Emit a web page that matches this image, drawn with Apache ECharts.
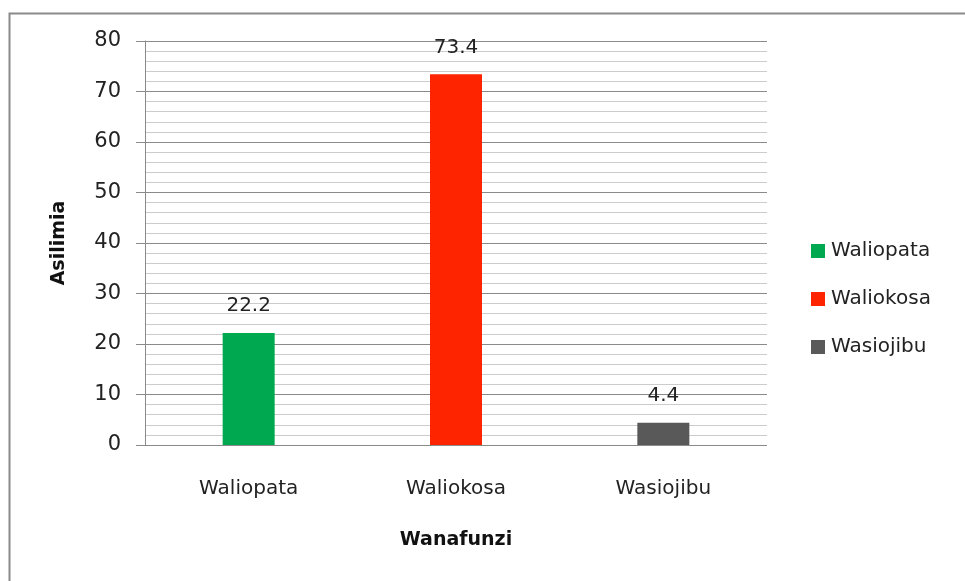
<!DOCTYPE html>
<html>
<head>
<meta charset="utf-8">
<script src="https://cdn.jsdelivr.net/npm/echarts@6/dist/echarts.min.js"></script>
<style>html,body{margin:0;padding:0;background:#fff}#c{width:965px;height:581px}</style>
</head>
<body>
<div id="c"></div>
<script>
var categories = ['Waliopata', 'Waliokosa', 'Wasiojibu'];
var seriesNames = ['Waliopata', 'Waliokosa', 'Wasiojibu'];
var values = [22.2, 73.4, 4.4];
var colors = ['#00A84F', '#FF2400', '#595959'];
var yTicks = [0, 10, 20, 30, 40, 50, 60, 70, 80];

var FONT = '"DejaVu Sans", "Noto Sans", sans-serif';
var chart = echarts.init(document.getElementById('c'), null, {renderer: 'canvas'});

var series = seriesNames.map(function (name, i) {
  var d = categories.map(function (c, j) { return j === i ? values[j] : null; });
  return {
    name: name,
    type: 'bar',
    data: d,
    barWidth: 52,
    barGap: '-100%',
    itemStyle: {color: colors[i]},
    label: {
      show: true, position: 'top', distance: 17,
      color: '#222', fontSize: 20, fontFamily: FONT
    }
  };
});

chart.setOption({
  animation: false,
  backgroundColor: '#fff',
  graphic: [{
    type: 'rect', left: 7, top: 11, silent: true,
    shape: {x: 0, y: 0, width: 1000, height: 700},
    style: {fill: null, stroke: '#8a8a8a', lineWidth: 2}
  }],
  grid: {left: 145, right: 198, top: 41, bottom: 136, containLabel: false},
  legend: {
    orient: 'vertical', left: 806, top: 236, itemGap: 28,
    itemWidth: 14, itemHeight: 14, icon: 'rect',
    textStyle: {fontSize: 20, fontFamily: FONT, color: '#222', padding: [0, 0, 0, 1]},
    data: seriesNames
  },
  xAxis: {
    type: 'category', data: categories,
    name: 'Wanafunzi', nameLocation: 'middle', nameGap: 86,
    nameTextStyle: {fontSize: 19, fontWeight: 'bold', fontFamily: FONT, color: '#111'},
    axisLine: {show: false},
    axisTick: {show: false},
    axisLabel: {fontSize: 20, fontFamily: FONT, color: '#222', margin: 34}
  },
  yAxis: {
    type: 'value', min: yTicks[0], max: yTicks[yTicks.length - 1], interval: 10,
    name: 'Asilimia', nameLocation: 'middle', nameGap: 76, nameRotate: 90,
    nameTextStyle: {fontSize: 19, fontWeight: 'bold', fontFamily: FONT, color: '#111'},
    axisLine: {show: true, lineStyle: {color: '#8a8a8a', width: 1}},
    axisTick: {show: true, length: 9, lineStyle: {color: '#8a8a8a'}},
    minorTick: {show: false, splitNumber: 5},
    minorSplitLine: {show: true, lineStyle: {color: '#cccccc', width: 1}},
    splitLine: {show: true, lineStyle: {color: '#8a8a8a', width: 1}},
    axisLabel: {fontSize: 21, fontFamily: FONT, color: '#222', margin: 24}
  },
  series: series
});
</script>
</body>
</html>
